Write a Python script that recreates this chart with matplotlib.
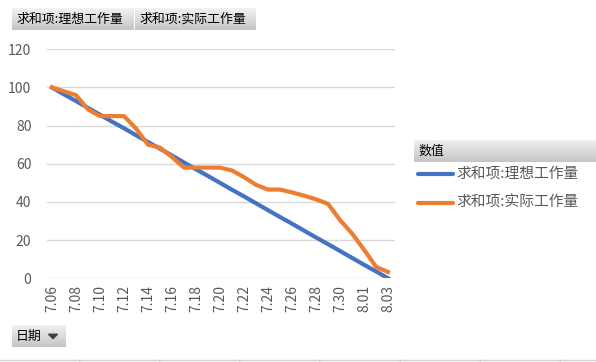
import matplotlib
matplotlib.use("Agg")
import matplotlib.pyplot as plt
import numpy as np
from matplotlib.patches import Polygon
from matplotlib.lines import Line2D

plt.rcParams['font.family'] = ['Noto Sans CJK SC', 'DejaVu Sans']

dates = ["7.06", "7.07", "7.08", "7.09", "7.10", "7.11", "7.12", "7.13", "7.14", "7.15",
         "7.16", "7.17", "7.18", "7.19", "7.20", "7.21", "7.22", "7.23", "7.24", "7.25",
         "7.26", "7.27", "7.28", "7.29", "7.30", "7.31", "8.01", "8.02", "8.03"]
ideal = [100, 96.4, 92.9, 89.3, 85.7, 82.1, 78.6, 75, 71.4, 67.9, 64.3, 60.7, 57.1,
         53.6, 50, 46.4, 42.9, 39.3, 35.7, 32.1, 28.6, 25, 21.4, 17.9, 14.3, 10.7,
         7.1, 3.6, 0]
actual = [100, 98, 96, 88.5, 85, 85, 85, 78.5, 70, 68.5, 63.5, 58, 58, 58, 58, 56.5,
          53, 49, 46.5, 46.5, 45, 43.3, 41.4, 39, 30.5, 23.5, 15, 6, 3.3]
series_names = ["求和项:理想工作量", "求和项:实际工作量"]
colors = ["#4472C4", "#ED7D31"]
yticks = [0, 20, 40, 60, 80, 100, 120]

W, H = 596, 362
fig = plt.figure(figsize=(W / 100, H / 100), dpi=100)

def fx(px):
    return px / W

def fy(py):
    return 1 - py / H

ax = fig.add_axes([fx(46.7), fy(278.3), fx(395) - fx(46.7), fy(49.3) - fy(278.3)])
x = np.arange(len(dates))
ax.plot(x, ideal, color=colors[0], lw=3.0, solid_joinstyle='round', zorder=3)
ax.plot(x, actual, color=colors[1], lw=3.0, solid_joinstyle='round', zorder=4)
ax.set_xlim(-0.44, 28.58)
ax.set_ylim(0, 120)
ax.set_yticks(yticks)
ax.set_yticklabels([str(v) for v in yticks], fontsize=10, color="#595959")
ax.set_xticks(x[::2])
ax.set_xticklabels(dates[::2], rotation=90, fontsize=10, color="#595959")
ax.tick_params(axis='both', length=0)
ax.tick_params(axis='y', pad=11)
ax.tick_params(axis='x', pad=5)
ax.grid(axis='y', color="#d9d9d9", lw=1)
ax.set_axisbelow(True)
for s in ax.spines.values():
    s.set_visible(False)

grad = np.linspace(0.95, 0.77, 50).reshape(-1, 1)

def button(x0, y0, x1, y1, text, arrow=False, fs=9.3):
    bax = fig.add_axes([fx(x0), fy(y1), fx(x1) - fx(x0), fy(y0) - fy(y1)])
    bax.imshow(grad, cmap='gray', vmin=0, vmax=1, aspect='auto',
               extent=[0, 1, 0, 1], origin='upper')
    bax.set_xlim(0, 1)
    bax.set_ylim(0, 1)
    bax.axis('off')
    bax.text(4 / (x1 - x0), 0.5, text, fontsize=fs, color="black",
             va='center', ha='left')
    if arrow:
        w = x1 - x0
        cx = (w - 13) / w
        dx = 4.5 / w
        bax.add_patch(Polygon([[cx - dx, 0.58], [cx + dx, 0.58], [cx, 0.38]],
                              closed=True, color="#404040"))
    return bax

button(12, 8, 133.5, 30, series_names[0])
button(135, 8, 256, 30, series_names[1])
button(12, 325, 66, 347, "日期", arrow=True)
button(414, 140, 596, 162, "数值")

# legend entries
for i, (name, c) in enumerate(zip(series_names, colors)):
    yy = 174 + i * 28.5
    fig.add_artist(Line2D([fx(418), fx(453)], [fy(yy), fy(yy)], color=c, lw=3.0,
                          solid_capstyle='round'))
    fig.text(fx(456), fy(yy), name, fontsize=10.6, color="#595959", va='center', ha='left')

# sheet grid lines at the bottom
fig.add_artist(Line2D([0, 1], [fy(359.5), fy(359.5)], color="#d4d4d4", lw=1))
for px in [79, 159, 239, 319, 400, 480, 560]:
    fig.add_artist(Line2D([fx(px), fx(px)], [fy(359.5), 0], color="#d4d4d4", lw=1))

fig.savefig("out.png", dpi=100)
